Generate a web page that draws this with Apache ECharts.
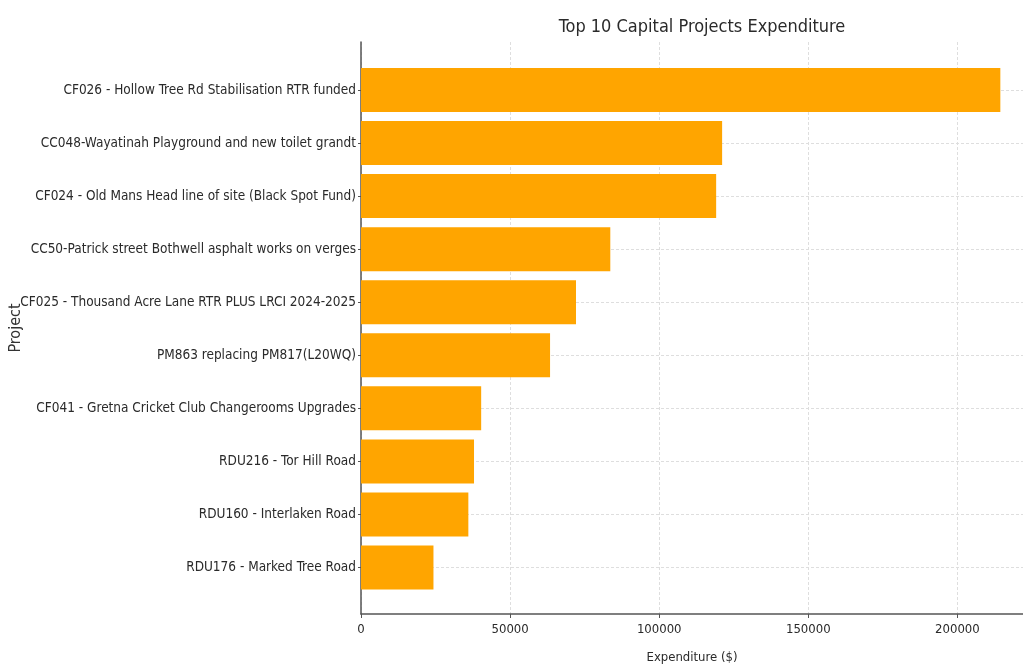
<!DOCTYPE html>
<html>
<head>
<meta charset="utf-8">
<title>Top 10 Capital Projects Expenditure</title>
<script src="https://cdn.jsdelivr.net/npm/echarts@6/dist/echarts.min.js"></script>
<style>
  html, body { margin: 0; padding: 0; background: #fff; }
  #chart { width: 1023px; height: 669px; }
</style>
</head>
<body>
<div id="chart"></div>
<script>
// projects, top to bottom
const projects = [
  'CF026 - Hollow Tree Rd Stabilisation RTR funded',
  'CC048-Wayatinah Playground and new toilet grandt',
  'CF024 - Old Mans Head line of site (Black Spot Fund)',
  'CC50-Patrick street Bothwell asphalt works on verges',
  'CF025 - Thousand Acre Lane RTR PLUS LRCI 2024-2025',
  'PM863 replacing PM817(L20WQ)',
  'CF041 - Gretna Cricket Club Changerooms Upgrades',
  'RDU216 - Tor Hill Road',
  'RDU160 - Interlaken Road',
  'RDU176 - Marked Tree Road'
]
const expenditure = [214400, 121100, 119100, 83600, 72100, 63400, 40300, 37900, 36000, 24300]
const xTicks = [0, 50000, 100000, 150000, 200000]

const font = '"DejaVu Sans Condensed", "DejaVu Sans", sans-serif'
const xMax = 222000
const gridLine = { show: true, lineStyle: { color: '#dedede', type: [3, 2], width: 1 } }

const chart = echarts.init(document.getElementById('chart'), null, { renderer: 'canvas' })

chart.setOption({
  animation: false,
  textStyle: { fontFamily: font },
  title: {
    text: 'Top 10 Capital Projects Expenditure',
    left: 697,
    textAlign: 'center',
    top: 13,
    textStyle: { fontFamily: font, fontSize: 18, fontWeight: 'normal', color: '#2a2a2a' }
  },
  grid: [
    // frame: spines, x ticks and vertical grid lines
    { left: 361, top: 42, right: 0, height: 572, outerBoundsMode: 'none', containLabel: false },
    // bars: category centres from first to last bar
    { left: 361, top: 90, right: 0, height: 477.5, outerBoundsMode: 'none', containLabel: false }
  ],
  xAxis: [
    {
      gridIndex: 0,
      type: 'value',
      min: 0,
      max: xMax,
      interval: 50000,
      axisLine: { show: true, lineStyle: { color: '#555', width: 1.5 } },
      axisTick: { show: true, length: 4, lineStyle: { color: '#555' } },
      axisLabel: {
        color: '#2a2a2a',
        fontSize: 13,
        margin: 9,
        showMaxLabel: false,
        formatter: v => xTicks.includes(v) ? String(v) : ''
      },
      splitLine: gridLine,
      name: 'Expenditure ($)',
      nameLocation: 'middle',
      nameGap: 37,
      nameTextStyle: { color: '#2a2a2a', fontSize: 13, fontFamily: font }
    },
    {
      gridIndex: 1,
      type: 'value',
      min: 0,
      max: xMax,
      show: false
    }
  ],
  yAxis: [
    {
      gridIndex: 0,
      type: 'value',
      axisLine: { show: true, lineStyle: { color: '#555', width: 1.5 } },
      axisTick: { show: false },
      axisLabel: { show: false },
      splitLine: { show: false },
      name: 'Project',
      nameLocation: 'middle',
      nameRotate: 90,
      nameGap: 337,
      nameTextStyle: { color: '#333', fontSize: 16, fontFamily: font }
    },
    {
      gridIndex: 1,
      type: 'category',
      data: projects,
      inverse: true,
      boundaryGap: false,
      axisLine: { show: false },
      axisTick: { show: true, length: 3, lineStyle: { color: '#555' } },
      axisLabel: { color: '#2a2a2a', fontSize: 13.5, margin: 5, interval: 0 },
      splitLine: gridLine
    }
  ],
  series: [
    {
      type: 'bar',
      xAxisIndex: 1,
      yAxisIndex: 1,
      data: expenditure,
      barWidth: 44,
      itemStyle: { color: '#FFA500' },
      z: 3
    }
  ]
})
</script>
</body>
</html>
